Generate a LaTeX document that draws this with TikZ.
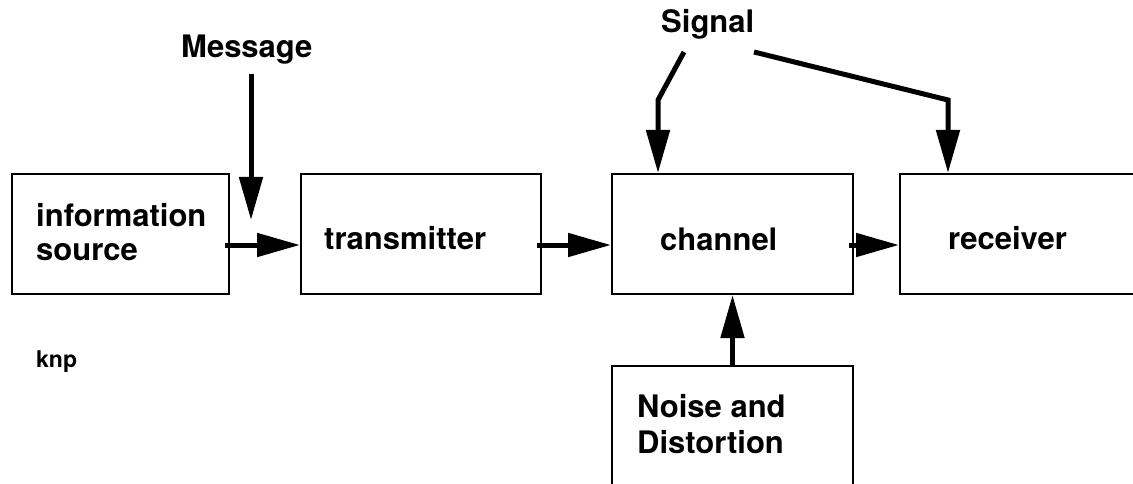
\documentclass[tikz,border=0pt]{standalone}
\usepackage{fontspec}
\setmainfont{TeX Gyre Heros}
\usetikzlibrary{arrows.meta}
\newcommand\twoline[2]{\vtop{\hbox{#1}\hbox{#2}}}
\begin{document}
\begin{tikzpicture}[x=1pt,y=-1pt,
  box/.style={draw=black, line width=2.4pt, rectangle, inner sep=0pt, outer sep=0pt},
  lbl/.style={font=\fontsize{31}{34}\selectfont\bfseries, inner sep=0pt, anchor=base west},
  arr/.style={line width=5pt, -{Triangle[length=43pt,width=23pt]}}]
\useasboundingbox (0,0) rectangle (1133,484);
\fill[white] (0,0) rectangle (1133,484);
\clip (0,0) rectangle (1133,484);

% boxes
\node[box, minimum width=217pt, minimum height=120pt] (src) at (120.5,234) {};
\node[box, minimum width=240pt, minimum height=120pt] (tx) at (421,234) {};
\node[box, minimum width=241pt, minimum height=120pt] (ch) at (732.5,234) {};
\node[box, minimum width=260pt, minimum height=120pt] (rx) at (1030,234) {};
\node[box, minimum width=241pt, minimum height=150pt] (noise) at (732.5,441) {};

% texts
\node[lbl] (srct) at (36,226) {\twoline{information}{source}};
\node[lbl] (txt) at (324,249) {transmitter};
\node[lbl] (cht) at (660,250) {channel};
\node[lbl] (rxt) at (948,249) {receiver};
\node[lbl, font=\fontsize{31}{36}\selectfont\bfseries] (noiset) at (637,417) {\twoline{Noise and}{Distortion}};
\node[lbl] (msg) at (181,58) {Message};
\node[lbl] (sig) at (661,33) {Signal};
\node[lbl, font=\fontsize{23}{26}\selectfont\bfseries] (knp) at (36,367) {knp};

% connectors
\coordinate (m0) at (251,74);
\coordinate (m1) at (251,220);
\draw[arr] (m0) -- (m1);

\draw[arr] ([shift={(-4,11)}]src.east) -- ([shift={(-1,11)}]tx.west);
\draw[arr] ([shift={(-4,11)}]tx.east) -- ([shift={(-1,11)}]ch.west);
\draw[arr] ([shift={(-4,11)}]ch.east) -- ([shift={(-1,11)}]rx.west);
\draw[arr] (noise.north) -- ([shift={(0,1)}]ch.south);

\coordinate (s0) at (684,52);
\coordinate (s1) at (658,100);
\coordinate (s2) at (754,52);
\coordinate (s3) at (948,100);
\draw[arr] (s0) -- (s1) -- ([shift={(0,-1)}]s1 |- ch.north);
\draw[arr] (s2) -- (s3) -- ([shift={(0,-1)}]s3 |- rx.north);
\end{tikzpicture}
\end{document}
